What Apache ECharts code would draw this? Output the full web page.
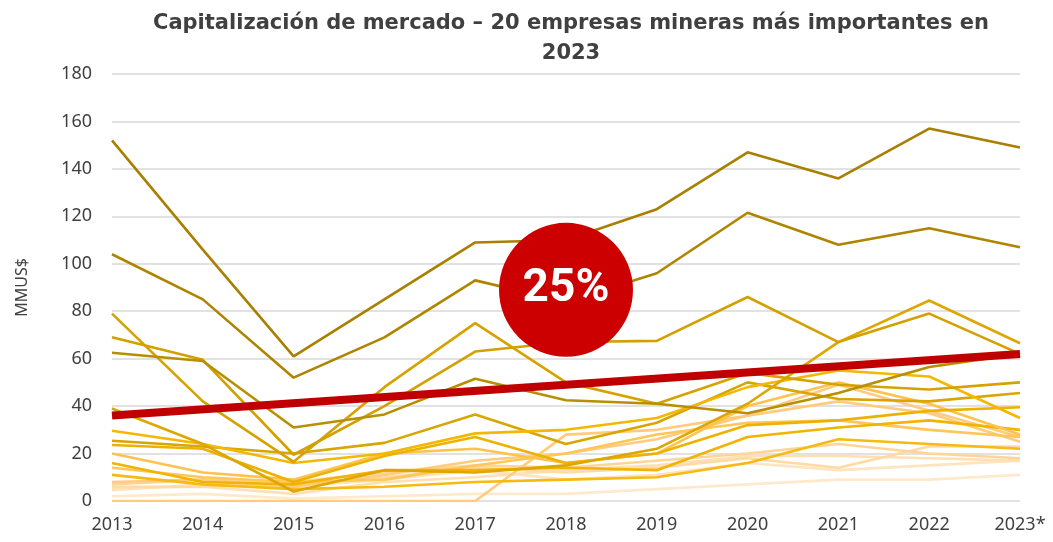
<!DOCTYPE html>
<html>
<head>
<meta charset="utf-8">
<script src="https://cdn.jsdelivr.net/npm/echarts@6/dist/echarts.min.js"></script>
<style>
  html, body { margin: 0; padding: 0; background: #fff; }
  #chart { width: 1053px; height: 542px; }
</style>
</head>
<body>
<div id="chart"></div>
<script>
// years on the x axis
var years = ['2013', '2014', '2015', '2016', '2017', '2018', '2019', '2020', '2021', '2022', '2023*'];

// market cap per company (MMUS$)
var emp01 = [152, 106, 61, 85, 109, 110, 123, 147, 136, 157, 149];
var emp02 = [104, 85, 52, 69, 93, 84, 96, 121.5, 108, 115, 107];
var emp03 = [62.5, 59, 31, 36.5, 51.5, 42.5, 41, 37, 45.5, 56.5, 62];
var emp04 = [69, 59.5, 19.5, 40, 63, 67, 67.5, 86, 67, 79, 62];
var emp05 = [79, 42, 16.5, 48, 75, 50, 41, 54, 49, 47, 50];
var emp06 = [39, 24, 4, 13, 12, 15, 22, 41, 67, 84.5, 66.5];
var emp07 = [29.6, 24, 16, 20, 28.5, 30, 35, 48, 55, 52.5, 35];
var emp08 = [25.4, 23, 20, 24.5, 36.5, 24, 33, 50, 43, 42, 45.5];
var emp09 = [23.6, 22, 8, 19, 27, 16, 20, 32, 34, 38, 39.5];
var emp10 = [20, 12, 9, 20, 22, 16, 20, 40, 50, 41, 28];
var emp11 = [16, 8, 7, 13, 13, 14, 13, 27, 31, 34, 30];
var emp12 = [14, 10, 8, 9, 15, 20, 28, 33, 34, 30, 27];
var emp13 = [11, 7, 5, 6, 8, 9, 10, 16, 26, 24, 22];
var emp14 = [8, 9, 6, 11, 17, 20, 26, 36, 49, 38, 27];
var emp15 = [7, 9, 8, 12, 15, 14, 17, 20, 24, 20, 18];
var emp16 = [6, 6, 7, 10, 14, 12, 14, 18, 14, 23, 23];
var emp17 = [5.5, 6, 3, 8, 10, 13, 15, 19, 19, 18, 17];
var emp18 = [4.5, 7, 6, 9, 13, 9, 11, 16, 13, 15, 17];
var emp19 = [2, 3, 1, 2, 3, 3, 5, 7, 9, 9, 11];
var emp20 = [0, 0, 0, 0, 0, 28, 30, 36, 42, 37, 25];

// trend line: start and end only
var tendencia = [36, null, null, null, null, null, null, null, null, null, 62];
var etiquetaCrec = '25%';
var posCrec = ['2018', 89];

var yTicks = { min: 0, max: 180, interval: 20 };

var lineas = [
  { d: emp19, c: '#FFE9CC' }, { d: emp18, c: '#FFE4C0' }, { d: emp17, c: '#FFE0B4' },
  { d: emp16, c: '#FFDAA4' }, { d: emp15, c: '#FFD597' }, { d: emp20, c: '#FFCB7C' },
  { d: emp14, c: '#FFCB80' }, { d: emp13, c: '#F7BA10' }, { d: emp12, c: '#FFC658' },
  { d: emp11, c: '#F2B400' }, { d: emp10, c: '#FFC24A' }, { d: emp09, c: '#EDB200' },
  { d: emp08, c: '#D9A500' }, { d: emp07, c: '#F4B800' }, { d: emp06, c: '#DDA600' },
  { d: emp05, c: '#D6A200' }, { d: emp04, c: '#D3A000' }, { d: emp03, c: '#B88F00' },
  { d: emp02, c: '#AE8400' }, { d: emp01, c: '#A97F00' }
];

var series = lineas.map(function (l) {
  return {
    type: 'line',
    data: l.d,
    symbol: 'none',
    lineStyle: { color: l.c, width: 2.6 },
    z: 2
  };
});

series.push({
  type: 'line',
  data: tendencia,
  connectNulls: true,
  symbol: 'none',
  lineStyle: { color: '#C00000', width: 8 },
  z: 5
});

series.push({
  type: 'scatter',
  data: [posCrec],
  symbol: 'circle',
  symbolSize: 134,
  itemStyle: { color: '#CC0000', opacity: 1 },
  label: {
    show: true,
    position: 'inside',
    formatter: etiquetaCrec,
    color: '#fff',
    fontSize: 46,
    fontWeight: 'bold',
    fontFamily: 'Roboto'
  },
  z: 10
});

var chart = echarts.init(document.getElementById('chart'));
chart.setOption({
  animation: false,
  title: {
    text: 'Capitalización de mercado – 20 empresas mineras más importantes en\n2023',
    left: 566,
    textAlign: 'center',
    top: 4,
    textStyle: {
      fontFamily: 'DejaVu Sans',
      fontSize: 21,
      fontWeight: 'bold',
      color: '#404040',
      lineHeight: 30
    }
  },
  grid: { left: 112, right: 33, top: 74, bottom: 41 },
  xAxis: {
    type: 'category',
    data: years,
    boundaryGap: false,
    axisLine: { show: false },
    axisTick: { show: false },
    axisLabel: { color: '#404040', fontSize: 18, fontFamily: 'Noto Sans', margin: 15 }
  },
  yAxis: {
    type: 'value',
    min: yTicks.min,
    max: yTicks.max,
    interval: yTicks.interval,
    name: 'MMUS$',
    nameLocation: 'middle',
    nameGap: 82,
    nameRotate: 90,
    nameTextStyle: { color: '#404040', fontSize: 16, fontFamily: 'Noto Sans' },
    axisLine: { show: false },
    axisTick: { show: false },
    axisLabel: { color: '#404040', fontSize: 18, fontFamily: 'Noto Sans', margin: 20 },
    splitLine: { lineStyle: { color: '#D9D9D9', width: 1.5 } }
  },
  series: series
});
</script>
</body>
</html>
